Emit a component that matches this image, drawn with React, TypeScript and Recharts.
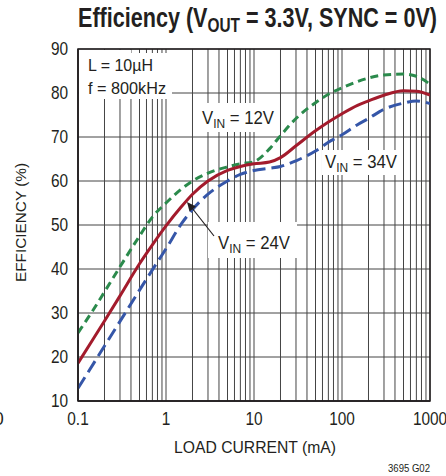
import React from "react"
import {
  LineChart,
  Line,
  XAxis,
  YAxis,
  CartesianGrid,
  ReferenceArea,
} from "recharts"

// load current (mA) and efficiency (%)
const LOAD_MA = [0.1, 0.15, 0.2, 0.3, 0.5, 0.7, 1, 1.5, 2, 3, 5, 7, 10, 15, 20, 30, 50, 70, 100, 150, 200, 300, 500, 700, 1000]
const EFF_12V = [25.5, 30.8, 34.8, 40.5, 47.5, 51.8, 55, 58.2, 60, 61.8, 63.2, 63.9, 64.4, 67.3, 70.3, 74.2, 77.8, 79.7, 81.2, 82.6, 83.4, 84.1, 84.3, 83.8, 82]
const EFF_24V = [18.6, 24.2, 28.2, 33.9, 41.2, 45.5, 49.8, 54.2, 57, 60, 62.4, 63.3, 63.9, 64.3, 65.3, 68, 71.4, 73.4, 75.3, 77.2, 78.2, 79.5, 80.5, 80.4, 79.5]
const EFF_34V = [12.9, 18.5, 22.5, 28.1, 35.2, 39.8, 44.6, 50.3, 53.5, 57, 60, 61.5, 62.4, 62.9, 63.3, 64.6, 66.8, 68.8, 70.5, 72.8, 74.2, 76.3, 77.7, 78.2, 77.6]

const DECADES = [0.1, 1, 10, 100, 1000]
const X_GRID = [
  0.1, 0.2, 0.3, 0.4, 0.5, 0.6, 0.7, 0.8, 0.9,
  1, 2, 3, 4, 5, 6, 7, 8, 9,
  10, 20, 30, 40, 50, 60, 70, 80, 90,
  100, 200, 300, 400, 500, 600, 700, 800, 900,
  1000,
]
const Y_TICKS = [10, 20, 30, 40, 50, 60, 70, 80, 90]

const FONT = "'Liberation Sans', Arial, sans-serif"
const INK = "#231f20"
const SQUEEZE = 0.88

const data = LOAD_MA.map((ma, i) => ({
  ma,
  v12: EFF_12V[i],
  v24: EFF_24V[i],
  v34: EFF_34V[i],
}))

function XTick(props: any) {
  const { x, y, payload } = props
  if (!DECADES.includes(payload.value)) return null
  return (
    <g transform={`translate(${x},${y})`}>
      <text transform={`scale(${SQUEEZE},1)`} textAnchor="middle" dy="0.72em" fontSize={17.5} fontFamily={FONT} fill={INK}>
        {String(payload.value)}
      </text>
    </g>
  )
}

function YTick(props: any) {
  const { x, y, payload } = props
  return (
    <g transform={`translate(${x},${y})`}>
      <text transform={`scale(${SQUEEZE},1)`} textAnchor="end" dy="0.36em" fontSize={17.5} fontFamily={FONT} fill={INK}>
        {String(payload.value)}
      </text>
    </g>
  )
}

// "V_IN = xxV" label drawn as svg text squeezed to a fixed width
function VinLabel({ x, y, v }: { x: number; y: number; v: string }) {
  return (
    <text x={x} y={y} fontSize={17.5} fontFamily={FONT} fill={INK} textLength={72} lengthAdjust="spacingAndGlyphs">
      V<tspan fontSize={12.5} dy={4}>IN</tspan>
      <tspan dy={-4}> = {v}</tspan>
    </text>
  )
}

const white: React.CSSProperties = { position: "absolute", background: "#fff" }

export default function App() {
  return (
    <div style={{ position: "absolute", left: 0, top: 0, width: 446, height: 476, background: "#fff", fontFamily: FONT, overflow: "hidden" }}>
      <LineChart
        width={446}
        height={476}
        data={data}
        margin={{ top: 49, right: 16, bottom: 45, left: 0 }}
      >
        <CartesianGrid stroke="#444" strokeWidth={1} />
        <XAxis
          dataKey="ma"
          type="number"
          scale="log"
          domain={[0.1, 1000]}
          allowDataOverflow
          ticks={X_GRID}
          interval={0}
          height={30}
          tickLine={false}
          tickSize={0}
          tickMargin={11}
          axisLine={{ stroke: INK, strokeWidth: 1.5 }}
          tick={<XTick />}
        />
        <YAxis
          type="number"
          domain={[10, 90]}
          ticks={Y_TICKS}
          interval={0}
          width={78}
          tickLine={false}
          tickSize={0}
          tickMargin={10}
          axisLine={{ stroke: INK, strokeWidth: 1.5 }}
          tick={<YTick />}
        />
        <ReferenceArea x1={0.1} x2={1000} y1={10} y2={90} fill="none" stroke={INK} strokeWidth={1.5} />
        <Line type="monotone" dataKey="v34" stroke="#3556a8" strokeWidth={3} strokeDasharray="13 6" dot={false} isAnimationActive={false} />
        <Line type="monotone" dataKey="v12" stroke="#2b8a4c" strokeWidth={3} strokeDasharray="8 5" dot={false} isAnimationActive={false} />
        <Line type="monotone" dataKey="v24" stroke="#a31b2c" strokeWidth={3} dot={false} isAnimationActive={false} />
      </LineChart>

      {/* white boxes behind the annotations */}
      <div style={{ ...white, left: 79, top: 53, width: 93, height: 46 }} />
      <div style={{ ...white, left: 79, top: 50, width: 52, height: 4 }} />
      <div style={{ ...white, left: 197, top: 103, width: 80, height: 29 }} />
      <div style={{ ...white, left: 322, top: 150, width: 78, height: 25 }} />
      <div style={{ ...white, left: 208, top: 222, width: 89, height: 36 }} />

      <svg width={446} height={476} style={{ position: "absolute", left: 0, top: 0, pointerEvents: "none" }}>
        {/* title */}
        <text x={78} y={27} fontSize={28} fontWeight="bold" fontFamily={FONT} fill={INK} textLength={359} lengthAdjust="spacingAndGlyphs">
          Efficiency (V<tspan fontSize={20} dy={5}>OUT</tspan>
          <tspan dy={-5}> = 3.3V, SYNC = 0V)</tspan>
        </text>

        <text x={88} y={71} fontSize={17} fontFamily={FONT} fill={INK} textLength={65} lengthAdjust="spacingAndGlyphs">L = 10µH</text>
        <text x={88} y={93.5} fontSize={17} fontFamily={FONT} fill={INK} textLength={78} lengthAdjust="spacingAndGlyphs">f = 800kHz</text>

        <VinLabel x={202} y={124} v="12V" />
        <VinLabel x={325} y={168} v="34V" />
        <VinLabel x={218} y={249} v="24V" />

        {/* arrow to the 24V curve */}
        <line x1={214} y1={236} x2={192} y2={208} stroke={INK} strokeWidth={1.2} />
        <polygon points="187,202 196,206.5 189.5,211.5" fill={INK} />

        {/* axis titles */}
        <text x={174} y={452.5} fontSize={16} fontFamily={FONT} fill={INK} textLength={162} lengthAdjust="spacingAndGlyphs">LOAD CURRENT (mA)</text>
        <text transform="translate(25.5,282) rotate(-90)" fontSize={15.5} fontFamily={FONT} fill={INK} textLength={119} lengthAdjust="spacingAndGlyphs">EFFICIENCY (%)</text>
        <text x={388} y={472} fontSize={11} fontFamily={FONT} fill={INK} textLength={42} lengthAdjust="spacingAndGlyphs">3695 G02</text>
        <text x={-6} y={425} fontSize={17.5} fontFamily={FONT} fill={INK}>0</text>
      </svg>
    </div>
  )
}
